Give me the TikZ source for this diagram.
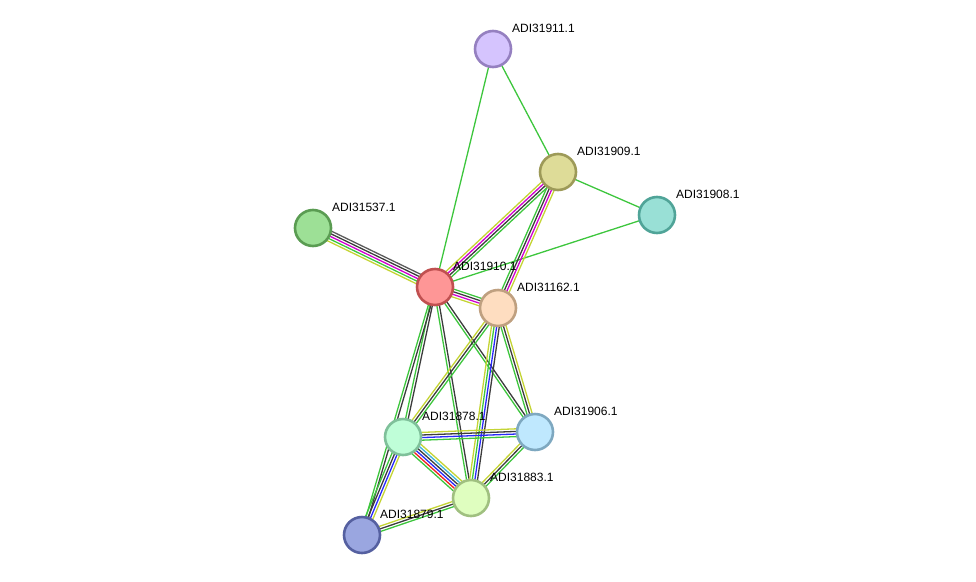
\documentclass[tikz,border=0pt]{standalone}
\usepackage{fontspec}
\setmainfont{Liberation Sans}
\usetikzlibrary{calc,backgrounds}
\definecolor{eg}{RGB}{61,198,61}
\definecolor{ey}{RGB}{196,212,52}
\definecolor{em}{RGB}{208,0,208}
\definecolor{ek}{RGB}{60,60,60}
\definecolor{ed}{RGB}{90,90,90}
\definecolor{eb}{RGB}{40,40,250}
\definecolor{er}{RGB}{240,30,30}
\definecolor{ec}{RGB}{60,180,220}
\definecolor{f11}{RGB}{213,196,254}\definecolor{d11}{RGB}{149,128,192}
\definecolor{f09}{RGB}{222,220,152}\definecolor{d09}{RGB}{157,154,88}
\definecolor{f08}{RGB}{153,224,214}\definecolor{d08}{RGB}{80,164,152}
\definecolor{f37}{RGB}{157,224,150}\definecolor{d37}{RGB}{90,156,82}
\definecolor{f10}{RGB}{254,150,150}\definecolor{d10}{RGB}{192,80,80}
\definecolor{f62}{RGB}{254,221,192}\definecolor{d62}{RGB}{191,160,128}
\definecolor{f78}{RGB}{191,254,216}\definecolor{d78}{RGB}{127,192,154}
\definecolor{f06}{RGB}{191,232,254}\definecolor{d06}{RGB}{126,168,192}
\definecolor{f83}{RGB}{223,254,191}\definecolor{d83}{RGB}{160,192,128}
\definecolor{f79}{RGB}{154,166,224}\definecolor{d79}{RGB}{85,96,160}
\newcommand\edgebundle[3]{%
  \foreach \cc [count=\ii] in {#3} {\xdef\nlines{\ii}}%
  \foreach \cc [count=\ii] in {#3} {%
    \pgfmathsetmacro\off{(\ii-(\nlines+1)/2)*2.6}%
    \draw[color=\cc, line width=1.3pt] ($(#1.center)!\off pt!90:(#2.center)$) -- ($(#2.center)!\off pt!-90:(#1.center)$);
  }%
}
\tikzset{
  prot/.style={circle, minimum size=36pt, inner sep=0pt, line width=2.6pt, fill=f#1, draw=d#1},
  lab/.style={anchor=base west, font=\fontsize{12}{14}\selectfont, text=black, inner sep=0pt}
}
\begin{document}
\begin{tikzpicture}[x=1pt,y=-1pt]
\useasboundingbox (0,0) rectangle (976,581);
\node[prot=11] (n11) at (493,49) {};
\node[prot=09] (n09) at (558,172) {};
\node[prot=08] (n08) at (657,215) {};
\node[prot=37] (n37) at (313,228) {};
\node[prot=10] (n10) at (435,287) {};
\node[prot=62] (n62) at (498,308) {};
\node[prot=78] (n78) at (403,437) {};
\node[prot=06] (n06) at (535,432) {};
\node[prot=83] (n83) at (471,498) {};
\node[prot=79] (n79) at (362,535) {};
\begin{pgfonlayer}{background}
\edgebundle{n11}{n10}{eg}
\edgebundle{n11}{n09}{eg}
\edgebundle{n09}{n08}{eg}
\edgebundle{n10}{n08}{eg}
\edgebundle{n09}{n10}{ey,em,ek,eg}
\edgebundle{n09}{n62}{eg,ek,em,ey}
\edgebundle{n37}{n10}{ey,eg,em,ek,ed}
\edgebundle{n10}{n62}{ey,em,ek,eg}
\edgebundle{n10}{n78}{eg,ek}
\edgebundle{n10}{n79}{eg,ek}
\edgebundle{n10}{n83}{eg,ek}
\edgebundle{n10}{n06}{eg,ek}
\edgebundle{n62}{n78}{ey,ek,eg}
\edgebundle{n62}{n83}{ey,eg,eb,ek}
\edgebundle{n62}{n06}{eg,ek,ey}
\edgebundle{n78}{n06}{eg,eb,ek,ey}
\edgebundle{n78}{n83}{eg,er,eb,ek,ec,ey}
\edgebundle{n78}{n79}{eg,ek,eb,ey}
\edgebundle{n83}{n06}{eg,ek,ey}
\edgebundle{n79}{n83}{eg,ek,ey}
\end{pgfonlayer}
\node[lab] (l11) at ($(n11.center)+(19,-17)$) {ADI31911.1};
\node[lab] (l09) at ($(n09.center)+(19,-17)$) {ADI31909.1};
\node[lab] (l08) at ($(n08.center)+(19,-17)$) {ADI31908.1};
\node[lab] (l37) at ($(n37.center)+(19,-17)$) {ADI31537.1};
\node[lab] (l10) at ($(n10.center)+(18,-17)$) {ADI31910.1};
\node[lab] (l62) at ($(n62.center)+(19,-17)$) {ADI31162.1};
\node[lab] (l78) at ($(n78.center)+(19,-17)$) {ADI31878.1};
\node[lab] (l06) at ($(n06.center)+(19,-17)$) {ADI31906.1};
\node[lab] (l83) at ($(n83.center)+(19,-17)$) {ADI31883.1};
\node[lab] (l79) at ($(n79.center)+(18,-17)$) {ADI31879.1};
\end{tikzpicture}
\end{document}
